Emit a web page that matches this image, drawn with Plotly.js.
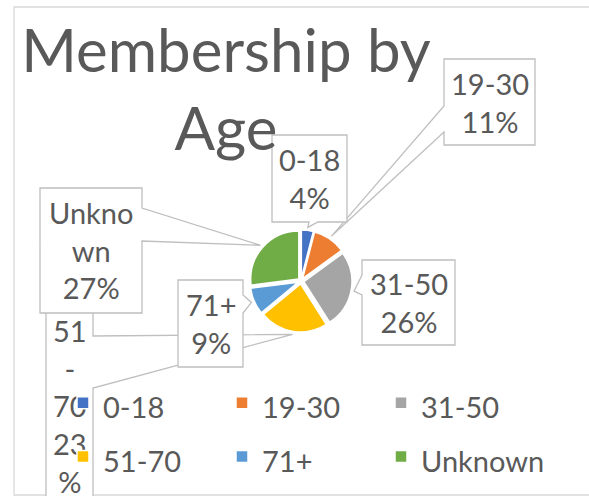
<!DOCTYPE html>
<html><head><meta charset="utf-8">
<script src="https://cdn.plot.ly/plotly-3.0.1.min.js"></script>
<style>html,body{margin:0;padding:0;background:#fff;}#chart{width:589px;height:496px;}</style>
</head><body><div id="chart"></div>
<script>
const categories = ['0-18', '19-30', '31-50', '51-70', '71+', 'Unknown'];
const shares = [4, 11, 26, 23, 9, 27];
const colors = ['#4472C4', '#ED7D31', '#A5A5A5', '#FFC000', '#5B9BD5', '#70AD47'];
const labelText = ['0-18<br>4%', '19-30<br>11%', '31-50<br>26%', '51<br>-<br>70<br>23<br>%', '71+<br>9%', 'Unkno<br>wn<br>27%'];
const titleText = 'Membership by<br>Age';

const W = 589, H = 496;
const px = x => x / W, py = y => 1 - y / H;
const pieBox = {l: 250, t: 230, size: 102};
const cx = pieBox.l + pieBox.size / 2, cy = pieBox.t + pieBox.size / 2;
const tipR = 54;
const textColor = '#595959';
const fontFam = 'Lato, "Open Sans", sans-serif';

// callout boxes (pixel layout), one per category, with pointer side and base
const callouts = [
  {box: [272, 135, 347, 222], side: 'bottom', base: [309, 318], z: 2},
  {box: [444, 59, 535, 145], side: 'left', base: [106, 132], z: 1},
  {box: [362, 260, 455, 345], side: 'left', base: [275, 295], z: 3},
  {box: [46, 305, 93, 506], side: 'right', base: [336, 388], z: 0},
  {box: [178, 280, 243, 367], side: 'right', base: [295, 313], z: 4},
  {box: [40, 188, 142, 313], side: 'right', base: [208, 241], z: 5}
];

const total = shares.reduce((a, b) => a + b, 0);
let cum = 0;
const tips = shares.map(v => {
  const a = 2 * Math.PI * (cum + v / 2) / total;
  cum += v;
  return [cx + tipR * Math.sin(a), cy - tipR * Math.cos(a)];
});

function calloutPath(c, tip) {
  const [l, t, r, b] = c.box; const [a1, a2] = c.base; const pts = [[l, t]];
  if (c.side === 'top') pts.push([a1, t], tip, [a2, t]);
  pts.push([r, t]);
  if (c.side === 'right') pts.push([r, a1], tip, [r, a2]);
  pts.push([r, b]);
  if (c.side === 'bottom') pts.push([a2, b], tip, [a1, b]);
  pts.push([l, b]);
  if (c.side === 'left') pts.push([l, a2], tip, [l, a1]);
  return 'M' + pts.map(p => px(p[0]).toFixed(5) + ',' + py(p[1]).toFixed(5)).join('L') + 'Z';
}

const order = callouts.map((c, i) => i).sort((a, b) => callouts[a].z - callouts[b].z);

const shapes = [{
  type: 'rect', xref: 'paper', yref: 'paper', layer: 'below',
  x0: px(14), x1: px(620), y0: py(495), y1: py(7),
  line: {color: '#D9D9D9', width: 1.3}, fillcolor: 'rgba(0,0,0,0)'
}];
const annotations = [];
order.forEach(i => {
  const c = callouts[i];
  shapes.push({type: 'path', xref: 'paper', yref: 'paper', layer: 'below',
    path: calloutPath(c, tips[i]), line: {color: '#BFBFBF', width: 1.3}, fillcolor: '#FFFFFF'});
});
callouts.forEach((c, i) => {
  annotations.push({xref: 'paper', yref: 'paper', showarrow: false,
    x: px((c.box[0] + c.box[2]) / 2), y: py((c.box[1] + c.box[3]) / 2),
    xanchor: 'center', yanchor: 'middle', align: 'center',
    text: labelText[i], font: {family: fontFam, size: 29, color: textColor}});
});

const data = [{
  type: 'pie', labels: categories.map(c => '<span style="font-size:29px">' + c + '</span>'),
  values: shares, sort: false, direction: 'clockwise', rotation: 0,
  textinfo: 'none', hoverinfo: 'none', pull: 0.06,
  marker: {colors: colors, line: {color: '#FFFFFF', width: 1.5}},
  domain: {x: [px(pieBox.l), px(pieBox.l + pieBox.size)], y: [py(pieBox.t + pieBox.size), py(pieBox.t)]}
}];

const layout = {
  width: W, height: H, margin: {l: 0, r: 0, t: 0, b: 0, autoexpand: false},
  paper_bgcolor: '#FFFFFF', plot_bgcolor: '#FFFFFF',
  title: {text: titleText, x: px(226), xref: 'paper', xanchor: 'center', y: 1 - 72 / H, yref: 'container', yanchor: 'top',
    font: {family: fontFam, size: 60, color: textColor}},
  showlegend: true,
  legend: {orientation: 'h', x: px(57), xanchor: 'left', y: py(365), yanchor: 'top',
    entrywidth: 114, entrywidthmode: 'pixels', font: {family: fontFam, size: 39, color: textColor},
    bgcolor: 'rgba(0,0,0,0)', bordercolor: 'rgba(0,0,0,0)', borderwidth: 6, traceorder: 'normal'},
  shapes: shapes, annotations: annotations
};

Plotly.newPlot('chart', data, layout, {displayModeBar: false, staticPlot: true}).then(gd => {
  const leg = gd.querySelector('g.legend');
  if (leg && leg.parentNode) {
    leg.parentNode.appendChild(leg);
    leg.querySelectorAll('[clip-path]').forEach(e => e.removeAttribute('clip-path'));
  }
});
</script>
</body></html>
